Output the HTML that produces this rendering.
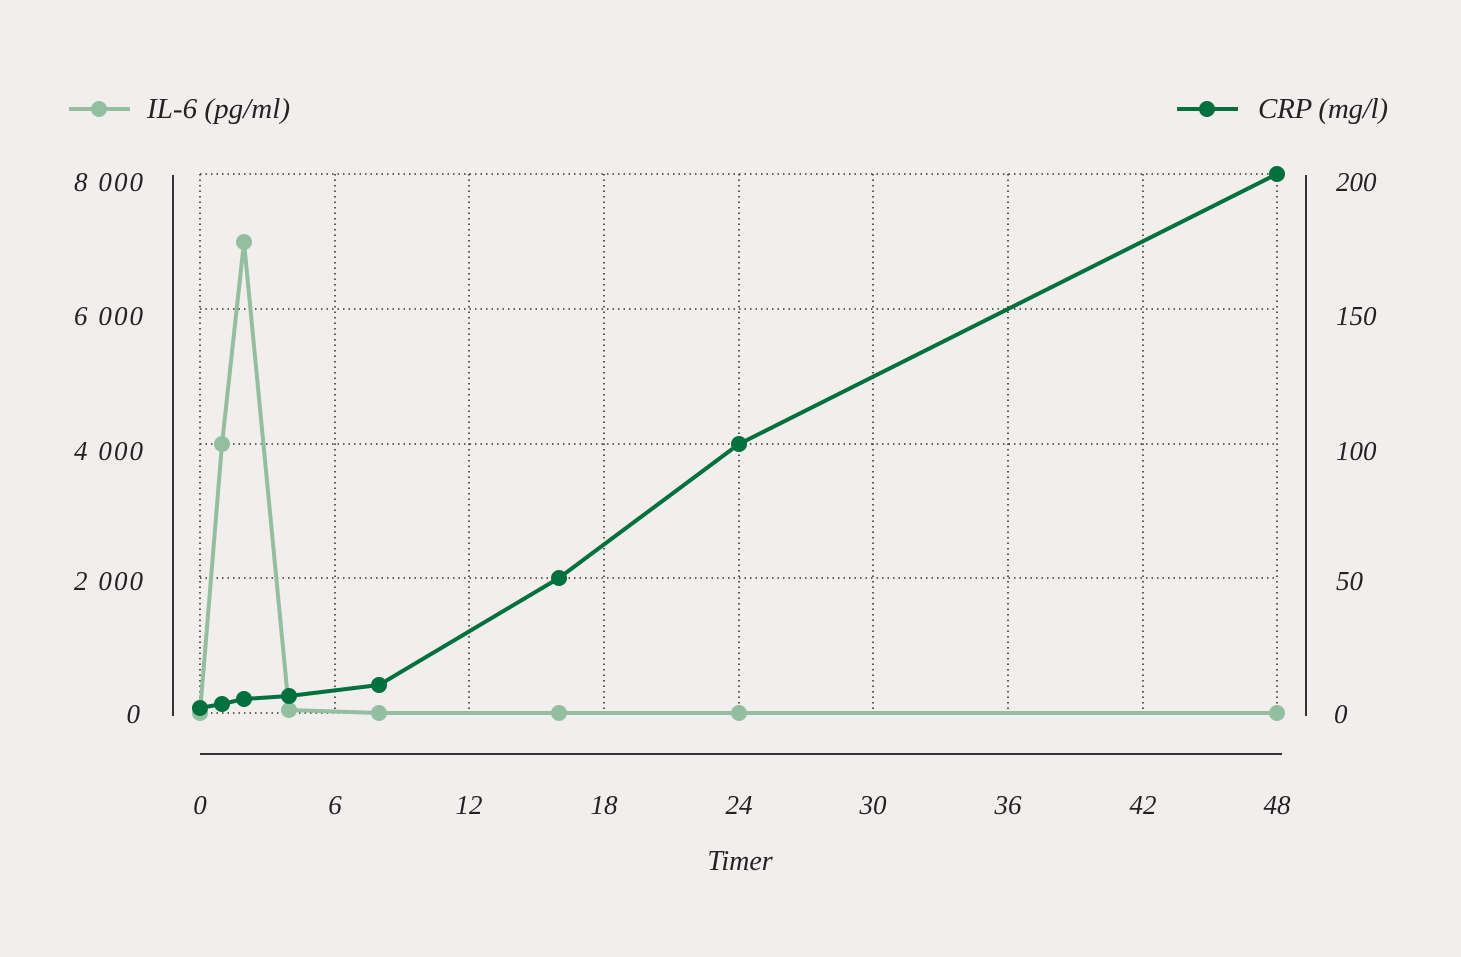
<!DOCTYPE html>
<html><head><meta charset="utf-8"><style>
html,body{margin:0;padding:0;background:#f1eeed;}
svg{display:block;}
text{font-family:"Liberation Serif",serif;font-style:italic;fill:#222;}
</style></head><body>
<svg width="1461" height="957" viewBox="0 0 1461 957">
<rect width="1461" height="957" fill="#f1eeed"/>
<g stroke="#333" stroke-width="1.6" stroke-dasharray="1.5 4" fill="none">
<line x1="200" y1="174" x2="1277" y2="174"/>
<line x1="200" y1="309" x2="1277" y2="309"/>
<line x1="200" y1="444" x2="1277" y2="444"/>
<line x1="200" y1="578" x2="1277" y2="578"/>
<line x1="200" y1="713" x2="1277" y2="713"/>
<line x1="200" y1="174" x2="200" y2="713"/>
<line x1="335" y1="174" x2="335" y2="713"/>
<line x1="469" y1="174" x2="469" y2="713"/>
<line x1="604" y1="174" x2="604" y2="713"/>
<line x1="739" y1="174" x2="739" y2="713"/>
<line x1="873" y1="174" x2="873" y2="713"/>
<line x1="1008" y1="174" x2="1008" y2="713"/>
<line x1="1143" y1="174" x2="1143" y2="713"/>
<line x1="1277" y1="174" x2="1277" y2="713"/>
</g>
<g stroke="#333" stroke-width="2">
<line x1="173" y1="175" x2="173" y2="716"/>
<line x1="1306" y1="175" x2="1306" y2="716"/>
<line x1="200" y1="754" x2="1282" y2="754"/>
</g>
<g font-size="27">
<text x="143" y="191" text-anchor="end" textLength="69">8 000</text>
<text x="143" y="325" text-anchor="end" textLength="69">6 000</text>
<text x="143" y="460" text-anchor="end" textLength="69">4 000</text>
<text x="143" y="590" text-anchor="end" textLength="69">2 000</text>
<text x="140" y="723" text-anchor="end">0</text>
<text x="1336" y="191">200</text>
<text x="1336" y="325">150</text>
<text x="1336" y="460">100</text>
<text x="1336" y="590">50</text>
<text x="1334" y="723">0</text>
<g text-anchor="middle">
<text x="200" y="814">0</text><text x="335" y="814">6</text><text x="469" y="814">12</text>
<text x="604" y="814">18</text><text x="739" y="814">24</text><text x="873" y="814">30</text>
<text x="1008" y="814">36</text><text x="1143" y="814">42</text><text x="1277" y="814">48</text>
<text x="740" y="870" font-size="28">Timer</text>
</g>
<text x="147" y="118" font-size="29" textLength="143">IL-6 (pg/ml)</text>
<text x="1388" y="118" font-size="29" text-anchor="end" textLength="130">CRP (mg/l)</text>
</g>
<line x1="69" y1="109" x2="130" y2="109" stroke="#93bfa0" stroke-width="4"/>
<circle cx="99" cy="109" r="8" fill="#93bfa0"/>
<line x1="1177" y1="109" x2="1238" y2="109" stroke="#00703c" stroke-width="4"/>
<circle cx="1207" cy="109" r="8" fill="#00703c"/>
<g fill="#93bfa0">
<polyline points="200,713 222,444 244,242 289,710 379,713 559,713 739,713 1277,713" fill="none" stroke="#93bfa0" stroke-width="4" stroke-linejoin="round"/>
<circle cx="200" cy="713" r="8"/><circle cx="222" cy="444" r="8"/><circle cx="244" cy="242" r="8"/>
<circle cx="289" cy="710" r="8"/><circle cx="379" cy="713" r="8"/><circle cx="559" cy="713" r="8"/>
<circle cx="739" cy="713" r="8"/><circle cx="1277" cy="713" r="8"/>
</g>
<g fill="#00703c">
<polyline points="200,708 222,704 244,699 289,696 379,685 559,578 739,444 1277,174" fill="none" stroke="#00703c" stroke-width="4" stroke-linejoin="round"/>
<circle cx="200" cy="708" r="8"/><circle cx="222" cy="704" r="8"/><circle cx="244" cy="699" r="8"/>
<circle cx="289" cy="696" r="8"/><circle cx="379" cy="685" r="8"/><circle cx="559" cy="578" r="8"/>
<circle cx="739" cy="444" r="8"/><circle cx="1277" cy="174" r="8"/>
</g>
</svg>
</body></html>
